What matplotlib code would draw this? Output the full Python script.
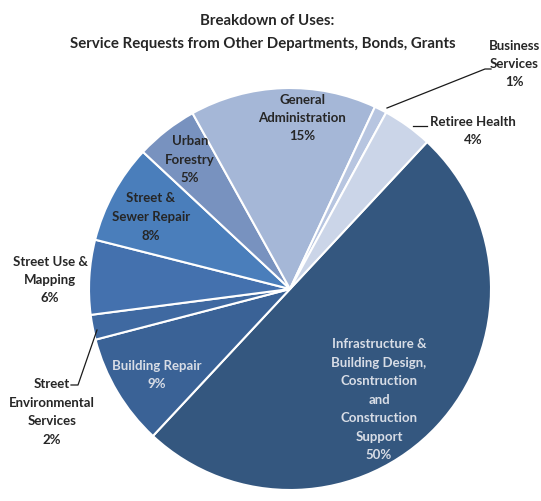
import matplotlib
matplotlib.use("Agg")
import matplotlib.pyplot as plt

# slice data, clockwise from the upper right
labels = ["Infrastructure &\nBuilding Design,\nCosntruction\nand\nConstruction\nSupport",
          "Building Repair", "Street\nEnvironmental\nServices", "Street Use &\nMapping",
          "Street &\nSewer Repair", "Urban\nForestry", "General\nAdministration",
          "Business\nServices", "Retiree Health"]
shares = [50, 9, 2, 6, 8, 5, 15, 1, 4]
colors = ["#34577f", "#3a6296", "#3f69a1", "#4471ae", "#4a7ebb",
          "#7892bf", "#a5b7d7", "#b7c5e0", "#cbd5e8"]

plt.rcParams["font.family"] = ["Lato", "DejaVu Sans"]

W, H = 541, 502
fig = plt.figure(figsize=(W / 100, H / 100), dpi=100)
cx, cy, r = 290, 290, 201
ax = fig.add_axes([(cx - r) / W, (H - cy - r) / H, 2 * r / W, 2 * r / H])

ax.pie(shares, colors=colors, startangle=47, counterclock=False, radius=1,
       wedgeprops=dict(edgecolor="white", linewidth=1.5))
ax.set_xlim(-1, 1); ax.set_ylim(-1, 1)
ax.set_aspect("equal")
ax.axis("off")


def px(x, y):
    return (x - cx) / r, (cy - y) / r


dark = "#262626"
light = "#d8dde6"
kw = dict(ha="center", va="center", fontsize=9.5, fontweight="bold", linespacing=1.65)

# label positions (pixel centres)
pos = [(379, 400), (157, 375), (52, 412), (50, 280), (151, 217), (190, 160),
       (302, 118), (514, 64), (473, 131)]
for i, (lab, s) in enumerate(zip(labels, shares)):
    txt = f"{lab}\n{s}%"
    col = light if i in (0, 1) else dark
    x, y = px(*pos[i])
    ax.text(x, y, txt, color=col, clip_on=False, **kw)

# leader lines
for pts in [[(387, 109), (485, 70), (491, 70)],
            [(413, 127), (427, 127)],
            [(97, 331), (78, 386), (71, 386)]]:
    xs, ys = zip(*[px(*p) for p in pts])
    ax.plot(xs, ys, color="#1a1a1a", lw=0.9, clip_on=False)

fig.text(267 / W, 1 - 21 / H, "Breakdown of Uses:", ha="center", va="center",
         fontsize=10.8, fontweight="bold", color=dark)
fig.text(263 / W, 1 - 44 / H, "Service Requests from Other Departments, Bonds, Grants",
         ha="center", va="center", fontsize=10.8, fontweight="bold", color=dark)

fig.savefig("out.png", dpi=100)
